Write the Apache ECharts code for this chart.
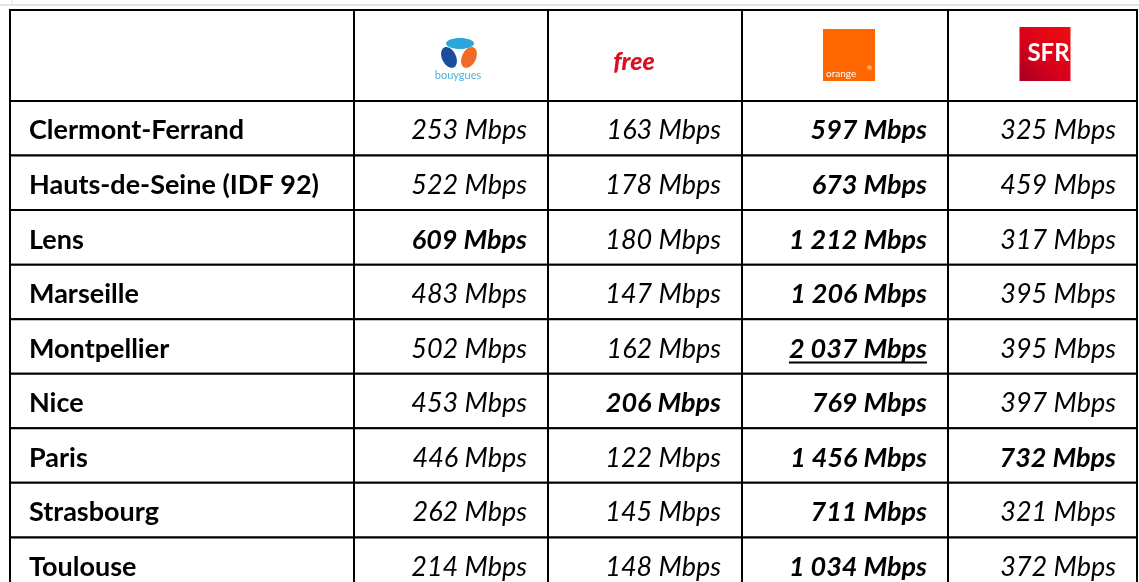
<!DOCTYPE html>
<html>
<head>
<meta charset="utf-8">
<script src="https://cdn.jsdelivr.net/npm/echarts@6/dist/echarts.min.js"></script>
<style>
  html, body { margin: 0; padding: 0; background: #fff; }
  #main { width: 1139px; height: 582px; }
</style>
</head>
<body>
<div id="main"></div>
<script>
// table content
const cities = ['Clermont-Ferrand', 'Hauts-de-Seine (IDF 92)', 'Lens', 'Marseille', 'Montpellier',
  'Nice', 'Paris', 'Strasbourg', 'Toulouse'];
const operators = ['Bouygues', 'Free', 'Orange', 'SFR'];
const bouygues = [253, 522, 609, 483, 502, 453, 446, 262, 214];
const free = [163, 178, 180, 147, 162, 206, 122, 145, 148];
const orange = [597, 673, 1212, 1206, 2037, 769, 1456, 711, 1034];
const sfr = [325, 459, 317, 395, 395, 397, 732, 321, 372];
const unit = 'Mbps';

// layout (axis units, not data)
const colEdges = [0, 344, 538, 732, 938, 1127];
const headerRows = 1.667;
const visibleRows = 10.484; // the last row runs past the bottom edge

const values = [bouygues, free, orange, sfr];
const bestAll = Math.max.apply(null, [].concat(bouygues, free, orange, sfr));

function fmt(v) {
  return String(v).replace(/\B(?=(\d{3})+(?!\d))/g, ' ') + ' ' + unit;
}
function isBold(c, r) {
  const v = values[c][r];
  const rowMax = Math.max.apply(null, values.map(function (s) { return s[r]; }));
  const colMax = Math.max.apply(null, values[c]);
  return v === rowMax || v === colMax;
}

const measureCtx = document.createElement('canvas').getContext('2d');
function textWidth(font, txt) {
  measureCtx.font = font;
  return measureCtx.measureText(txt).width;
}

// one data item per cell: [column, row] (row 0 = header)
const cells = [];
for (let r = 0; r <= cities.length; r++) {
  for (let c = 0; c <= operators.length; c++) cells.push([c, r]);
}

function logo(name, cx, cy) {
  if (name === 'Bouygues') {
    return [
      { type: 'ellipse', x: cx + 9, y: cy - 12, shape: { cx: 0, cy: 0, rx: 14, ry: 5.5 }, style: { fill: '#2ba6db' } },
      { type: 'ellipse', x: cx - 2, y: cy + 2, rotation: 0.45, shape: { cx: 0, cy: 0, rx: 7, ry: 11 }, style: { fill: '#1c4e9d' } },
      { type: 'ellipse', x: cx + 18, y: cy + 2, rotation: -0.45, shape: { cx: 0, cy: 0, rx: 7, ry: 11 }, style: { fill: '#f06a25' } },
      { type: 'text', x: cx + 7, y: cy + 20, style: { text: 'bouygues', fill: '#4fb0dc', font: '11px Lato', align: 'center', verticalAlign: 'middle' } }
    ];
  }
  if (name === 'Free') {
    return [
      { type: 'text', x: cx - 11, y: cy + 6, style: { text: 'free', fill: '#d9101e', font: 'italic 900 25px Lato', align: 'center', verticalAlign: 'middle' } }
    ];
  }
  if (name === 'Orange') {
    return [
      { type: 'rect', shape: { x: cx - 22, y: cy - 26.5, width: 52, height: 52 }, style: { fill: '#ff6600' } },
      { type: 'text', x: cx - 19, y: cy + 18, style: { text: 'orange', fill: '#fff', font: '10px Lato', align: 'left', verticalAlign: 'middle' } },
      { type: 'text', x: cx + 22, y: cy + 13, style: { text: '®', fill: '#fff', font: '6px Lato', align: 'left', verticalAlign: 'middle' } }
    ];
  }
  return [
    { type: 'rect', shape: { x: cx - 23, y: cy - 28.5, width: 51, height: 54 },
      style: { fill: new echarts.graphic.LinearGradient(1, 0, 0, 1, [
        { offset: 0, color: '#f20d0d' }, { offset: 0.6, color: '#d6001c' }, { offset: 1, color: '#a4001f' }]) } },
    { type: 'text', x: cx + 6, y: cy - 2, style: { text: 'SFR', fill: '#fff', font: 'bold 24px Lato', align: 'center', verticalAlign: 'middle' } }
  ];
}

function renderCell(params, api) {
  const c = api.value(0);
  const r = api.value(1);
  const yTop = r === 0 ? 0 : headerRows + r - 1;
  const yBot = r === 0 ? headerRows : yTop + 1;
  const p0 = api.coord([colEdges[c], yTop]);
  const p1 = api.coord([colEdges[c + 1], yBot]);
  const midY = (p0[1] + p1[1]) / 2;
  const children = [{
    type: 'rect',
    shape: { x: p0[0], y: p0[1], width: p1[0] - p0[0], height: p1[1] - p0[1] },
    style: { fill: '#fff', stroke: '#000', lineWidth: 2 }
  }];
  if (r === 0) {
    if (c > 0) children.push.apply(children, logo(operators[c - 1], (p0[0] + p1[0]) / 2, midY));
  } else if (c === 0) {
    children.push({ type: 'text', x: p0[0] + 19, y: midY + 2.5,
      style: { text: cities[r - 1], font: 'bold 27px Lato', fill: '#000', align: 'left', verticalAlign: 'middle' } });
  } else {
    const v = values[c - 1][r - 1];
    const font = 'italic ' + (isBold(c - 1, r - 1) ? 'bold ' : '') + '27px Lato';
    const txt = fmt(v);
    const xr = p1[0] - 21;
    children.push({ type: 'text', x: xr, y: midY + 2.5,
      style: { text: txt, font: font, fill: '#000', align: 'right', verticalAlign: 'middle' } });
    if (v === bestAll) {
      const w = textWidth(font, txt);
      children.push({ type: 'line', shape: { x1: xr - w, y1: midY + 16, x2: xr, y2: midY + 16 },
        style: { stroke: '#000', lineWidth: 2 } });
    }
  }
  return { type: 'group', children: children };
}

const chart = echarts.init(document.getElementById('main'));
chart.setOption({
  animation: false,
  grid: { left: 10, top: 10, right: 2, bottom: 0 },
  xAxis: { type: 'value', min: 0, max: colEdges[colEdges.length - 1], show: false },
  yAxis: { type: 'value', min: 0, max: visibleRows, inverse: true, show: false },
  graphic: [
    { type: 'line', shape: { x1: 0, y1: 5, x2: 1139, y2: 5 }, style: { stroke: '#e4e4e4', lineWidth: 2 } },
    { type: 'line', shape: { x1: 12, y1: 0, x2: 12, y2: 5 }, style: { stroke: '#e4e4e4', lineWidth: 1 } }
  ],
  series: [{
    type: 'custom',
    renderItem: renderCell,
    clip: false,
    data: cells
  }]
});
</script>
</body>
</html>
